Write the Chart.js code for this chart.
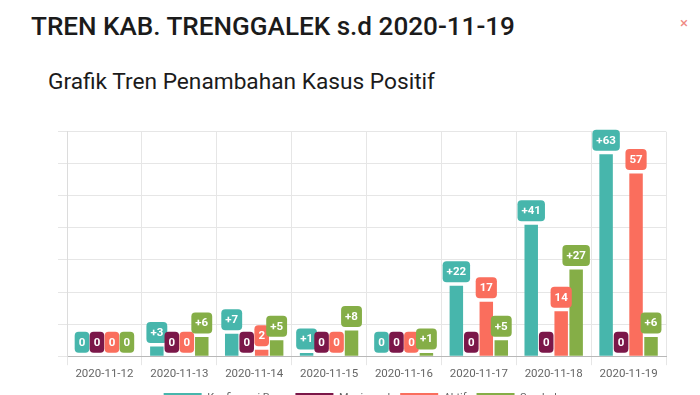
<!DOCTYPE html>
<html>
<head>
<meta charset="utf-8">
<script src="https://cdn.jsdelivr.net/npm/chart.js@4"></script>
<style>
  html, body { margin:0; padding:0; background:#fff; width:700px; height:395px; overflow:hidden; }
  #title { position:absolute; left:31px; top:10.5px; font-family:Roboto, sans-serif; font-weight:500; font-size:26.1px; line-height:normal; color:#1b1b1b; white-space:nowrap; }
  #subtitle { position:absolute; left:48px; top:68px; font-family:Roboto, sans-serif; font-weight:400; font-size:22.7px; line-height:normal; color:#1b1b1b; white-space:nowrap; }
  #close { position:absolute; left:680px; top:14px; font-family:Roboto, sans-serif; font-size:15px; line-height:normal; color:#ef8a84; }
  #chart { position:absolute; left:0; top:100px; }
</style>
</head>
<body>
<div id="title">TREN KAB. TRENGGALEK s.d 2020-11-19</div>
<div id="subtitle">Grafik Tren Penambahan Kasus Positif</div>
<div id="close">×</div>
<canvas id="chart" width="700" height="320"></canvas>
<script>
const categories = ['2020-11-12','2020-11-13','2020-11-14','2020-11-15','2020-11-16','2020-11-17','2020-11-18','2020-11-19'];
const seriesNames = ['Konfirmasi Baru','Meninggal','Aktif','Sembuh'];
const konfirmasi = [0, 3, 7, 1, 0, 22, 41, 63];
const meninggal  = [0, 0, 0, 0, 0, 0, 0, 0];
const aktif      = [0, 0, 2, 0, 0, 17, 14, 57];
const sembuh     = [0, 6, 5, 8, 1, 5, 27, 6];
const plusSign   = [true, false, false, true];
const colors     = ['#47B6AC', '#7B1749', '#FA6E5D', '#85AE47'];
const yMax = 70, yStep = 10;

const seriesValues = [konfirmasi, meninggal, aktif, sembuh];

function roundRect(ctx, x, y, w, h, r) {
  ctx.beginPath();
  ctx.moveTo(x + r, y);
  ctx.lineTo(x + w - r, y);
  ctx.quadraticCurveTo(x + w, y, x + w, y + r);
  ctx.lineTo(x + w, y + h - r);
  ctx.quadraticCurveTo(x + w, y + h, x + w - r, y + h);
  ctx.lineTo(x + r, y + h);
  ctx.quadraticCurveTo(x, y + h, x, y + h - r);
  ctx.lineTo(x, y + r);
  ctx.quadraticCurveTo(x, y, x + r, y);
  ctx.closePath();
}

const labelPlugin = {
  id: 'boxLabels',
  afterDatasetsDraw(chart) {
    const ctx = chart.ctx;
    ctx.save();
    ctx.font = 'bold 11.5px Roboto, sans-serif';
    ctx.textAlign = 'center';
    ctx.textBaseline = 'middle';
    chart.data.datasets.forEach((ds, di) => {
      const meta = chart.getDatasetMeta(di);
      meta.data.forEach((el, i) => {
        const v = ds.data[i];
        const txt = (plusSign[di] && v > 0) ? '+' + v : String(v);
        const tw = ctx.measureText(txt).width;
        const w = tw + 8, h = 21;
        const bottom = el.y - 3.5;
        ctx.fillStyle = colors[di];
        roundRect(ctx, el.x - w / 2, bottom - h, w, h, 4);
        ctx.fill();
        ctx.fillStyle = '#ffffff';
        ctx.fillText(txt, el.x, bottom - h / 2 + 0.5);
      });
    });
    ctx.restore();
  }
};

new Chart(document.getElementById('chart'), {
  type: 'bar',
  data: {
    labels: categories,
    datasets: seriesValues.map((vals, i) => ({
      label: seriesNames[i],
      data: vals,
      backgroundColor: colors[i],
      borderWidth: 0,
      categoryPercentage: 0.8,
      barPercentage: 0.9
    }))
  },
  options: {
    responsive: false,
    animation: false,
    devicePixelRatio: 1,
    layout: { padding: { left: 58, right: 34, top: 31.7, bottom: 6 } },
    plugins: {
      legend: {
        position: 'bottom',
        labels: { boxWidth: 38, boxHeight: 11, font: { family: 'Roboto', size: 11 }, color: '#666', padding: 10 }
      },
      tooltip: { enabled: false }
    },
    scales: {
      x: {
        grid: { color: '#e6e6e6', tickLength: 9, offset: true },
        border: { color: '#b8b8b8' },
        ticks: { font: { family: 'Roboto', size: 11.5 }, color: '#666', padding: 2 }
      },
      y: {
        min: 0, max: yMax,
        grid: { color: '#e6e6e6', tickLength: 9 },
        border: { color: '#dcdcdc' },
        ticks: { display: false, stepSize: yStep }
      }
    }
  },
  plugins: [labelPlugin]
});
</script>
</body>
</html>
